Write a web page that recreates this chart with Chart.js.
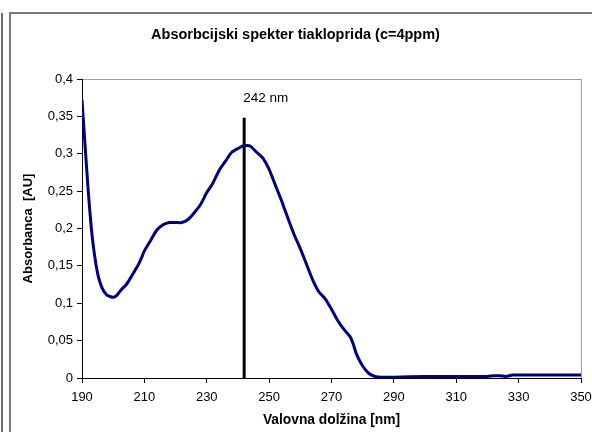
<!DOCTYPE html>
<html lang="sl">
<head>
    <meta charset="UTF-8">
    <title>Absorbcijski spekter tiakloprida</title>
    <script src="https://cdn.jsdelivr.net/npm/chart.js"></script>
    <style>
        body {
            margin: 0;
            background-color: #ffffff;
            font-family: Arial, "Liberation Sans", sans-serif;
        }
        #okvir {
            position: relative;
            width: 592px;
            height: 432px;
            overflow: hidden;
        }
        #rob {
            position: absolute;
            left: 1px;
            top: 13px;
            width: 2px;
            height: 430px;
            background-color: #6e6e6e;
        }
        #obroba {
            position: absolute;
            left: 9px;
            top: 12px;
            width: 600px;
            height: 440px;
            border-top: 2px solid #7a7a7a;
            border-left: 2px solid #7a7a7a;
        }
        canvas {
            position: absolute;
            left: 0;
            top: 0;
        }
    </style>
</head>
<body>
    <div id="okvir">
        <div id="rob"></div>
        <div id="obroba"></div>
        <canvas id="graf" width="592" height="432"></canvas>
    </div>

    <script>
        // valovna dolzina [nm]
        const valovnaDolzina = [190, 191, 192, 193, 194, 195, 196, 197, 198, 199, 200, 201, 202, 203, 204, 205, 206, 207, 208, 209,
            210, 212, 214, 216, 218, 220, 222, 224, 226, 228, 230, 232, 234, 236, 238, 240, 242, 244, 246, 248,
            250, 252, 254, 256, 258, 260, 262, 264, 266, 268, 270, 272, 274, 276, 277, 278, 280, 282, 284, 286,
            290, 300, 310, 320, 322, 324, 326, 328, 340, 350];
        // absorbanca [AU]
        const absorbanca = [0.372, 0.31, 0.25, 0.2, 0.165, 0.14, 0.125, 0.116, 0.111, 0.109, 0.108, 0.11, 0.115, 0.12, 0.124, 0.13, 0.137, 0.144, 0.151, 0.16,
            0.17, 0.184, 0.198, 0.205, 0.208, 0.208, 0.208, 0.212, 0.221, 0.232, 0.248, 0.261, 0.278, 0.29, 0.302, 0.307, 0.311, 0.31, 0.302, 0.294,
            0.279, 0.258, 0.237, 0.214, 0.192, 0.173, 0.152, 0.131, 0.115, 0.106, 0.092, 0.077, 0.065, 0.055, 0.045, 0.032, 0.016, 0.006, 0.002, 0.001,
            0.001, 0.002, 0.002, 0.002, 0.003, 0.003, 0.002, 0.004, 0.004, 0.004];

        // oznaka vrha
        const vrhX = [242, 242];
        const vrhY = [0, 0.348];
        const vrhOznaka = "242 nm";

        const xTicks = [190, 210, 230, 250, 270, 290, 310, 330, 350];
        const yTicks = [0, 0.05, 0.1, 0.15, 0.2, 0.25, 0.3, 0.35, 0.4];

        const pisava = "Arial, 'Liberation Sans', sans-serif";

        let spekter = valovnaDolzina.map((x, i) => ({ x: x, y: absorbanca[i] }));
        let crta = vrhX.map((x, i) => ({ x: x, y: vrhY[i] }));

        const oznakaVrha = {
            id: "oznakaVrha",
            afterDatasetsDraw(chart) {
                let ctx = chart.ctx;
                let px = chart.scales.x.getPixelForValue(vrhX[1]);
                let py = chart.scales.y.getPixelForValue(vrhY[1]);
                ctx.save();
                ctx.font = "13.5px " + pisava;
                ctx.fillStyle = "#000000";
                ctx.textAlign = "left";
                ctx.textBaseline = "middle";
                ctx.fillText(vrhOznaka, px - 1, py - 20);
                ctx.restore();
            }
        };

        let ctx = document.getElementById("graf").getContext("2d");
        new Chart(ctx, {
            type: "line",
            data: {
                datasets: [
                    {
                        label: "Absorbanca",
                        data: spekter,
                        borderColor: "#000080",
                        borderWidth: 3,
                        pointRadius: 0,
                        fill: false,
                        tension: 0.2
                    },
                    {
                        label: vrhOznaka,
                        data: crta,
                        borderColor: "#000000",
                        borderWidth: 3,
                        pointRadius: 0,
                        fill: false
                    }
                ]
            },
            plugins: [oznakaVrha],
            options: {
                responsive: false,
                animation: false,
                layout: { padding: { left: 10, right: 11, top: 0, bottom: 0 } },
                plugins: {
                    legend: { display: false },
                    tooltip: { enabled: false },
                    title: {
                        display: true,
                        text: "Absorbcijski spekter tiakloprida (c=4ppm)",
                        color: "#000000",
                        font: { family: pisava, size: 14.5, weight: "bold", lineHeight: 1.2 },
                        padding: { top: 26.3, bottom: 35.3 }
                    }
                },
                scales: {
                    x: {
                        type: "linear",
                        min: 190,
                        max: 350,
                        afterBuildTicks: (s) => { s.ticks = xTicks.map(v => ({ value: v })); },
                        afterFit: (s) => { s.height = 54; s.paddingLeft = 0; s.paddingRight = 0; },
                        ticks: {
                            color: "#000000",
                            font: { family: pisava, size: 13 },
                            padding: 7,
                            maxRotation: 0
                        },
                        grid: {
                            color: (c) => (c.tick && c.tick.value === 350 ? "#a0a0a0" : "rgba(0,0,0,0)"),
                            tickColor: "#000000",
                            tickLength: 5,
                            lineWidth: 1
                        },
                        border: { color: "#000000", width: 1 },
                        title: {
                            display: true,
                            text: "Valovna dolžina [nm]",
                            color: "#000000",
                            font: { family: pisava, size: 13.8, weight: "bold", lineHeight: 1.2 },
                            padding: { top: 0, bottom: 4 }
                        }
                    },
                    y: {
                        min: 0,
                        max: 0.4,
                        afterBuildTicks: (s) => { s.ticks = yTicks.map(v => ({ value: v })); },
                        afterFit: (s) => { s.width = 72; },
                        ticks: {
                            color: "#000000",
                            font: { family: pisava, size: 13 },
                            padding: 4,
                            callback: (v) => String(Math.round(v * 100) / 100).replace(".", ",")
                        },
                        grid: {
                            color: (c) => (c.tick && c.tick.value === 0.4 ? "#a0a0a0" : "rgba(0,0,0,0)"),
                            tickColor: "#000000",
                            tickLength: 5,
                            lineWidth: 1
                        },
                        border: { color: "#000000", width: 1 },
                        title: {
                            display: true,
                            text: "Absorbanca  [AU]",
                            color: "#000000",
                            font: { family: pisava, size: 13, weight: "bold", lineHeight: 1.2 },
                            padding: { top: 11, bottom: 0 }
                        }
                    }
                }
            }
        });
    </script>
</body>
</html>
